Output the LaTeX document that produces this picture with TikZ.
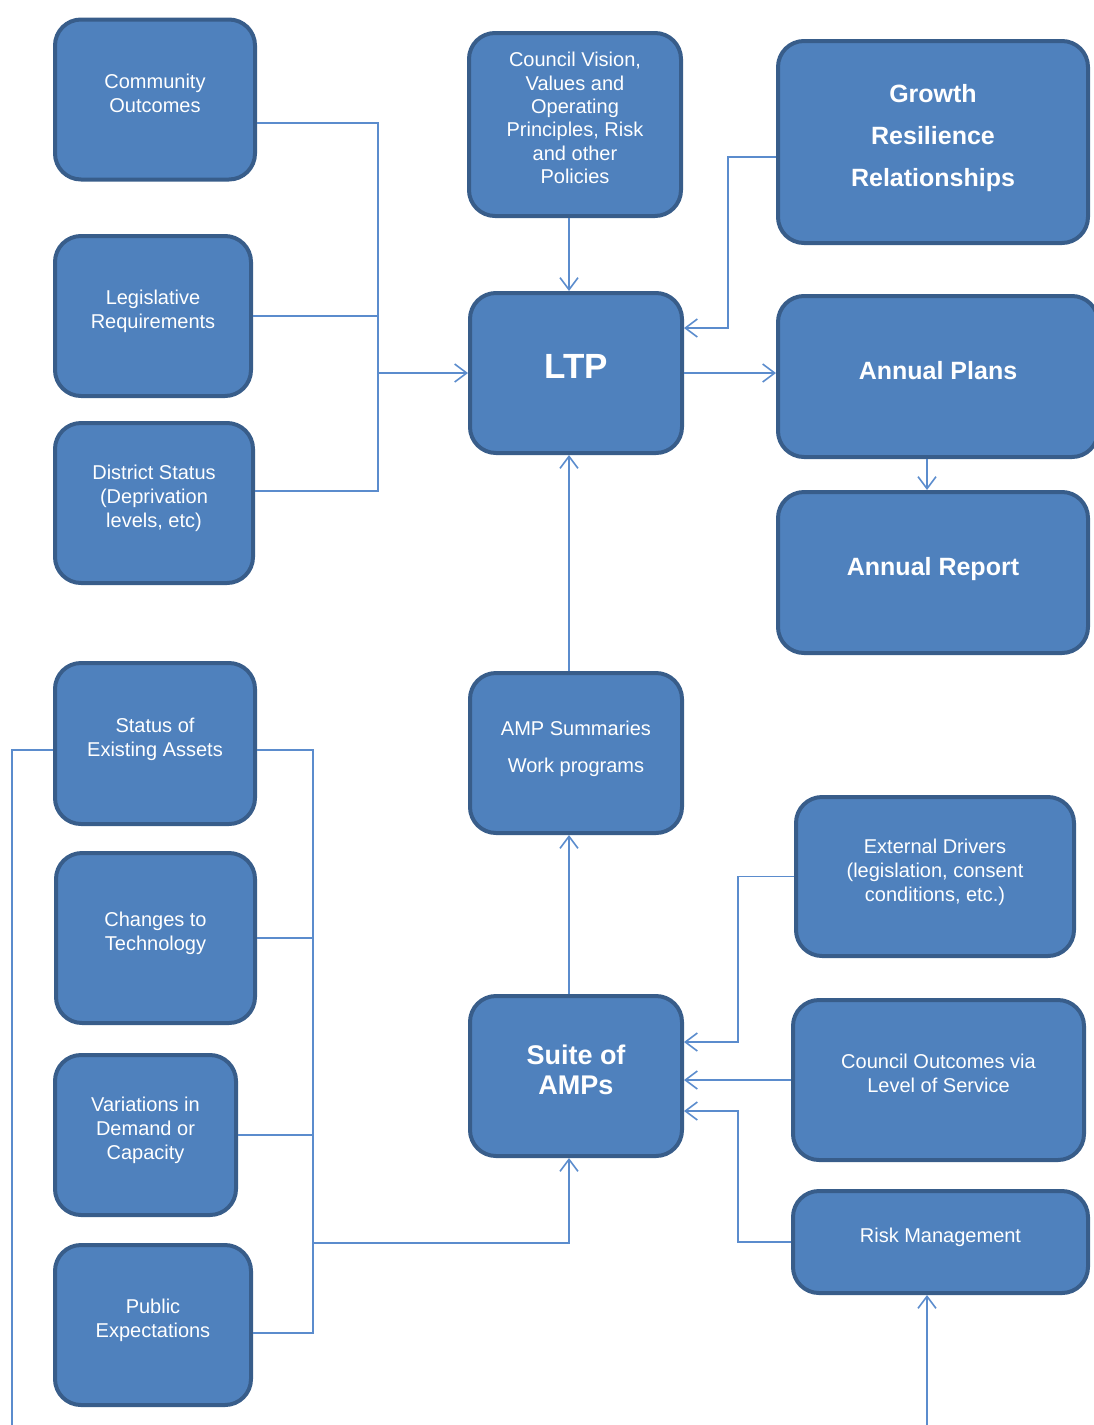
\documentclass[tikz,border=0pt]{standalone}
\usepackage{fontspec}
\setmainfont{Liberation Sans}
\usetikzlibrary{positioning,arrows.meta}
\definecolor{boxblue}{RGB}{79,129,189}
\definecolor{boxedge}{RGB}{56,93,138}
\definecolor{lineblue}{RGB}{91,140,205}

\begin{document}
\begin{tikzpicture}[x=0.5pt, y=-0.5pt,
    box/.style={rectangle, draw=boxedge, line width=2pt, fill=boxblue, rounded corners=13pt, text=white, align=center, font=\fontsize{10}{12}\selectfont, text depth=6.5pt, minimum width=100pt, minimum height=80pt},
    head/.style={box, font=\fontsize{12.5}{21}\selectfont\bfseries},
    link/.style={draw=lineblue, line width=0.8pt},
    arrow/.style={link, -{Straight Barb[length=6pt,width=9pt]}}
  ]
    \useasboundingbox (0,0) rectangle (1093,1425);

    % inputs to the LTP
    \node[box] at (155,99.5) (comm) {Community\\Outcomes};
    \node[box, minimum width=98pt] at (153,316) (leg) {Legislative\\Requirements};
    \node[box, minimum width=99pt] at (154,503) (dist) {District Status\\(Deprivation\\levels, etc)};
    \node[box, minimum width=106pt, minimum height=91.5pt, font=\fontsize{10}{11.7}\selectfont] at (575,124.5) (vision) {Council Vision,\\Values and\\Operating\\Principles, Risk\\and other\\Policies};
    \node[head, minimum width=155pt, minimum height=101pt] at (933,142) (growth) {Growth\\Resilience\\Relationships};

    \node[box, minimum width=106pt, font=\fontsize{17.5}{20}\selectfont\bfseries] at (576,373) (ltp) {LTP};
    \node[head, minimum width=160pt, minimum height=80.5pt] at (938,376.5) (plans) {Annual Plans};
    \node[head, minimum width=155pt, minimum height=80.5pt] at (933,572.5) (report) {Annual Report};
    \node[box, minimum width=106pt, font=\fontsize{10}{18.5}\selectfont] at (576,753) (summ) {AMP Summaries\\Work programs};

    % inputs to the AMPs
    \node[box, minimum height=80.5pt] at (155,743.5) (assets) {Status of\\Existing Assets};
    \node[box, minimum width=99.5pt, minimum height=85pt] at (155.5,938) (tech) {Changes to\\Technology};
    \node[box, minimum width=90.5pt] at (145.5,1135) (demand) {Variations in\\Demand or\\Capacity};
    \node[box, minimum width=98pt] at (153,1325) (public) {Public\\Expectations};

    \node[box, minimum width=106pt, font=\fontsize{13.5}{15}\selectfont\bfseries] at (576,1076) (suite) {Suite of\\AMPs};
    \node[box, minimum width=139pt, minimum height=79.5pt] at (935,876.5) (drivers) {External Drivers\\(legislation, consent\\conditions, etc.)};
    \node[box, minimum width=145.5pt] at (938.5,1080) (service) {Council Outcomes via\\Level of Service};
    \node[box, minimum width=147.5pt, minimum height=51pt] at (940.5,1242) (risk) {Risk Management};

    % helper points
    \coordinate (ltpbus) at (378,123);
    \coordinate (ltpbusend) at (378,491);
    \coordinate (spine) at (569,0);
    \coordinate (drop) at (927,0);
    \coordinate (ampbus) at (313,750);
    \coordinate (ampbusend) at (313,1333);
    \coordinate (rbus) at (738,0);
    \coordinate (leftend) at (12,1425);
    \coordinate (riskfeed) at (927,1425);

    % connectors
    \draw[link] (comm.east |- ltpbus) -- (ltpbus) -- (ltpbusend) -- (dist.east |- ltpbusend);
    \draw[link] (leg.east) -- (leg.east -| ltpbus);
    \draw[arrow] (ltpbus |- ltp.west) -- (ltp.west);
    \draw[arrow] (vision.south -| spine) -- (ltp.north -| spine);
    \draw[arrow] ([yshift=-7.5pt]growth.west) -- ++(-48,0) |- ([yshift=22.5pt]ltp.east);
    \draw[arrow] (ltp.east) -- (ltp.east -| plans.west);
    \draw[arrow] (plans.south -| drop) -- (report.north -| drop);
    \draw[arrow] (summ.north -| spine) -- (ltp.south -| spine);
    \draw[arrow] (suite.north -| spine) -- (summ.south -| spine);

    \draw[link] (assets.east |- ampbus) -- (ampbus) -- (ampbusend) -- (public.east |- ampbusend);
    \draw[link] (tech.east) -- (tech.east -| ampbus);
    \draw[link] (demand.east) -- (demand.east -| ampbus);
    \draw[arrow] (ampbus |- 0,1243) -| (suite.south -| spine);
    \draw[link] (assets.west |- ampbus) -| (leftend);

    \draw[arrow] (drivers.west) -- (drivers.west -| rbus) |- ([yshift=17pt]suite.east);
    \draw[arrow] (service.west) -- (service.west -| suite.east);
    \draw[arrow] (risk.west) -- (risk.west -| rbus) |- ([yshift=-17.5pt]suite.east);
    \draw[arrow] (riskfeed) -- (riskfeed |- risk.south);
\end{tikzpicture}
\end{document}
